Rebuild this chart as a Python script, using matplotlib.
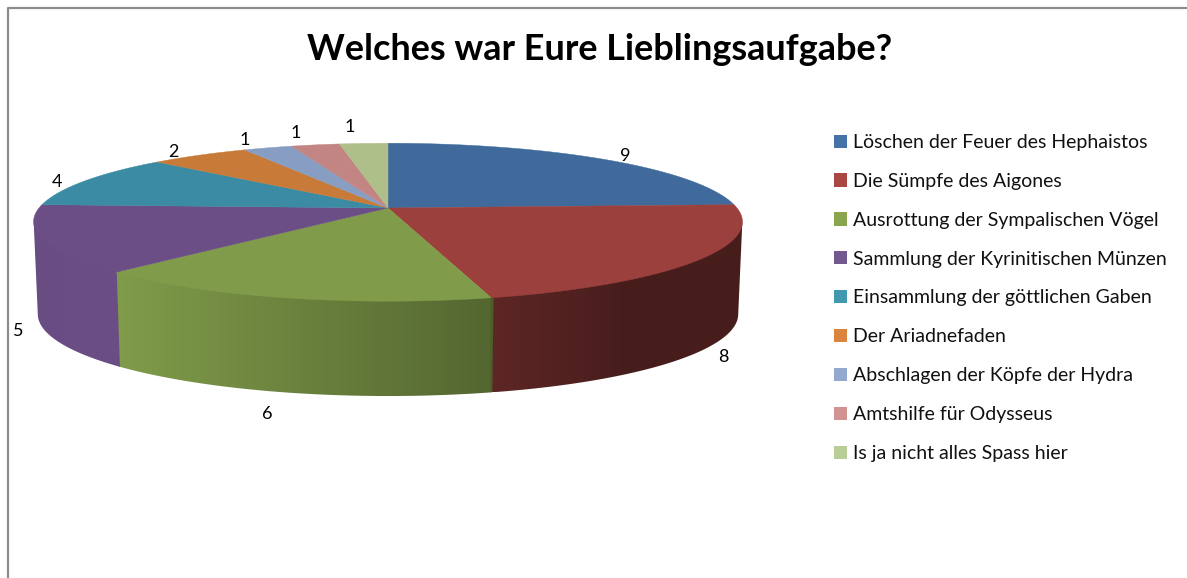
import numpy as np
import matplotlib
matplotlib.use('Agg')
import matplotlib.pyplot as plt
from matplotlib.patches import Patch, Polygon
from matplotlib.colors import to_rgb

title = 'Welches war Eure Lieblingsaufgabe?'
categories = ['Löschen der Feuer des Hephaistos', 'Die Sümpfe des Aigones',
              'Ausrottung der Sympalischen Vögel', 'Sammlung der Kyrinitischen Münzen',
              'Einsammlung der göttlichen Gaben', 'Der Ariadnefaden',
              'Abschlagen der Köpfe der Hydra', 'Amtshilfe für Odysseus',
              'Is ja nicht alles Spass hier']
values = [9, 8, 6, 5, 4, 2, 1, 1, 1]

top_colors = ['#3f6a9b', '#9c403e', '#809c4a', '#6b4e85', '#3a8ba3',
              '#c87a38', '#879dc2', '#c38584', '#aebf8a']
legend_colors = ['#4572a7', '#aa4643', '#89a54e', '#71588f', '#4198af',
                 '#db843d', '#93a9cf', '#d19392', '#b9cd96']

# pie geometry in image pixels
cx, cy = 388, 208
rx, ry = 349, 79
persp = 0.18
depth = 92
silhouette = 0.178  # widest point of the disc sits this far below 3 and 9 o'clock

label_pos = [(625, 156), (723, 357), (267, 414), (18, 331), (57, 182),
             (173, 152), (245, 140), (296, 133), (350, 127)]

plt.rcParams['font.family'] = ['Lato', 'DejaVu Sans']


def project(t):
    # t = clockwise angle from 12 o'clock, tilted disc with perspective
    x, y = np.sin(t), np.cos(t)
    f = 1 - persp * y
    return cx + rx * x * f, cy - ry * y * f


def project_bottom(t):
    sx, sy = project(t)
    return cx + (sx - cx) * 0.988, cy + (sy - cy) * 1.03 + depth


def shade(sx):
    # side wall gets darker to the right
    return np.interp(sx, [34, 115, 490, 492, 620, 742],
                     [0.98, 1.0, 0.66, 0.60, 0.46, 0.46])


fig = plt.figure(figsize=(11.87, 5.78), dpi=100)
ax = fig.add_axes([0, 0, 1, 1])

# chart frame, only top and left are in the crop
ax.plot([7.5, 7.5, 1187], [578, 7.5, 7.5], color='#8c8c8c', lw=1.6, zorder=1)

edges = np.cumsum([0] + values) / sum(values) * 2 * np.pi

# side walls: horizontal gradient clipped to the wall outline
for i in range(len(values)):
    # small overlap with the previous wall so no seam shows
    a0 = max(edges[i] - 0.006, np.pi / 2 + silhouette)
    a1 = min(edges[i + 1], 3 * np.pi / 2 - silhouette)
    if a1 <= a0:
        continue
    ts = np.linspace(a0, a1, 120)
    tx, ty = project(ts)
    bx, by = project_bottom(ts)
    # wall runs a little under the top face, hides the hairline between them
    xs = np.r_[tx, bx[::-1]]
    ys = np.r_[ty - 3, by[::-1]]
    base = np.array(to_rgb(top_colors[i]))
    grid = np.linspace(xs.min(), xs.max(), 200)
    img = np.clip(base[None, None, :] * shade(grid)[None, :, None], 0, 1)
    outline = Polygon(np.c_[xs, ys], closed=True, transform=ax.transData)
    im = ax.imshow(img, extent=(xs.min(), xs.max(), ys.max(), ys.min()), aspect='auto',
                   interpolation='bilinear', zorder=2 + i * 0.01)
    im.set_clip_path(outline)

# top of the pie
for i in range(len(values)):
    ts = np.linspace(edges[i], edges[i + 1], 120)
    sx, sy = project(ts)
    ax.fill(np.r_[cx, sx], np.r_[cy, sy], color=top_colors[i], lw=0.3, zorder=3)

for v, (lx, ly) in zip(values, label_pos):
    ax.text(lx, ly, str(v), fontsize=13, color='black', ha='center', va='center', zorder=4)

ax.text(599.5, 49, title, fontsize=25.9, fontweight='bold', color='black',
        ha='center', va='center')

ax.set_xlim(0, 1187)
ax.set_ylim(578, 0)
ax.axis('off')

handles = [Patch(facecolor=c, edgecolor='none') for c in legend_colors]
ax.legend(handles, categories, loc='upper left', bbox_to_anchor=(834, 134),
          bbox_transform=ax.transData, frameon=False, fontsize=14, borderpad=0,
          borderaxespad=0, handlelength=0.67, handleheight=0.67, handletextpad=0.31,
          labelspacing=1.125, labelcolor='#111111')

fig.savefig('out.png', dpi=100)
